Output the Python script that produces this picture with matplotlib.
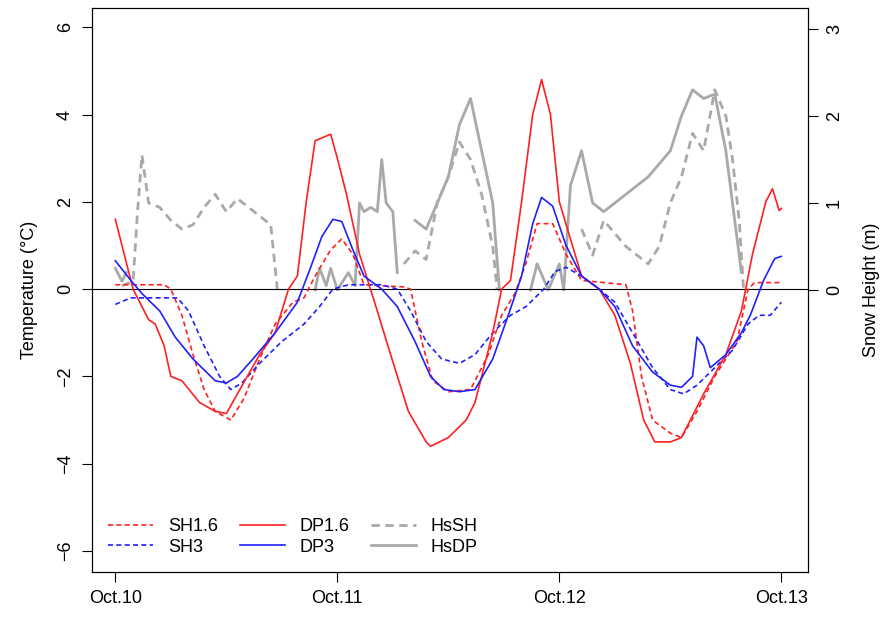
import numpy as np
import matplotlib
matplotlib.use("Agg")
import matplotlib.pyplot as plt

plt.rcParams['font.family'] = ['Liberation Sans', 'DejaVu Sans']
nan = np.nan

t_dp16 = [0,0.08,0.15,0.18,0.22,0.25,0.3,0.38,0.45,0.5,0.55,0.65,0.72,0.78,0.82,0.86,0.9,0.97,1.0,1.04,1.1,1.18,1.24,1.32,1.4,1.42,1.5,1.58,1.62,1.7,1.74,1.78,1.83,1.88,1.92,1.96,2.0,2.1,2.18,2.25,2.32,2.38,2.43,2.5,2.55,2.65,2.75,2.82,2.87,2.93,2.96,2.99,3.0]
dp16 = [1.6,0,-0.7,-0.8,-1.3,-2.0,-2.1,-2.6,-2.8,-2.85,-2.4,-1.5,-1.0,0,0.3,2,3.4,3.55,3.0,2.2,0.8,-0.5,-1.5,-2.8,-3.5,-3.6,-3.4,-3.0,-2.6,-1.0,0,0.2,2,4,4.8,4,2,0.3,0,-0.6,-1.7,-3.0,-3.5,-3.5,-3.4,-2.4,-1.5,-0.5,0.8,2.0,2.3,1.8,1.85]

t_sh16 = [0,0.22,0.25,0.3,0.35,0.4,0.45,0.52,0.58,0.65,0.72,0.8,0.85,0.9,0.97,1.02,1.07,1.12,1.3,1.33,1.38,1.43,1.5,1.6,1.68,1.74,1.8,1.85,1.9,1.97,2.03,2.1,2.3,2.33,2.37,2.42,2.5,2.55,2.62,2.7,2.8,2.85,2.88,3.0]
sh16 = [0.1,0.1,0,-0.6,-1.5,-2.3,-2.8,-3.0,-2.5,-1.6,-0.8,-0.3,-0.2,0.3,0.9,1.15,0.8,0.1,0.05,0,-1.2,-2.1,-2.35,-2.3,-1.5,-0.6,-0.1,0.6,1.5,1.5,0.8,0.2,0.1,-0.5,-2.0,-3.0,-3.3,-3.4,-2.8,-2.0,-1.2,0,0.15,0.15]

t_dp3 = [0,0.07,0.12,0.2,0.27,0.35,0.45,0.5,0.55,0.62,0.72,0.82,0.88,0.93,0.98,1.02,1.07,1.12,1.2,1.27,1.35,1.42,1.48,1.55,1.62,1.7,1.77,1.83,1.88,1.92,1.97,2.03,2.1,2.18,2.25,2.33,2.42,2.5,2.55,2.6,2.62,2.65,2.68,2.75,2.82,2.86,2.92,2.97,3.0]
dp3 = [0.65,0.2,-0.1,-0.5,-1.1,-1.6,-2.1,-2.15,-2.0,-1.6,-1.0,-0.3,0.5,1.2,1.6,1.55,0.9,0.3,0,-0.4,-1.2,-2.0,-2.3,-2.35,-2.3,-1.6,-0.6,0.3,1.5,2.1,1.9,1.0,0.3,0,-0.4,-1.3,-1.9,-2.2,-2.25,-2.0,-1.1,-1.3,-1.8,-1.5,-1.0,-0.6,0.2,0.7,0.75]

t_sh3 = [0,0.07,0.28,0.33,0.4,0.47,0.52,0.57,0.65,0.75,0.85,0.92,0.98,1.05,1.2,1.27,1.33,1.4,1.47,1.55,1.62,1.7,1.78,1.85,1.93,1.98,2.03,2.1,2.18,2.25,2.33,2.42,2.5,2.56,2.62,2.7,2.78,2.85,2.9,2.95,3.0]
sh3 = [-0.35,-0.2,-0.2,-0.5,-1.3,-2.0,-2.3,-2.15,-1.7,-1.2,-0.8,-0.4,0,0.1,0.1,0,-0.5,-1.2,-1.6,-1.7,-1.5,-1.0,-0.6,-0.4,0,0.4,0.5,0.3,0,-0.3,-1.0,-1.8,-2.3,-2.4,-2.2,-1.8,-1.4,-0.8,-0.6,-0.6,-0.3]

t_hssh = [0.03,0.08,0.1,0.12,0.15,0.2,0.25,0.3,0.35,0.4,0.45,0.5,0.55,0.6,0.65,0.7,0.73,0.74,
          1.3,1.35,1.4,1.45,1.5,1.55,1.6,1.65,1.7,1.72,1.73,
          2.1,2.15,2.2,2.3,2.4,2.45,2.5,2.55,2.6,2.65,2.7,2.75,2.78,2.81,2.83]
hssh = [0.05,0.1,0.9,1.55,1.0,0.95,0.8,0.7,0.75,0.95,1.1,0.9,1.05,0.95,0.85,0.75,0.0,nan,
        0.3,0.45,0.35,1.0,1.3,1.7,1.5,1.1,0.5,0.0,nan,
        0.7,0.4,0.8,0.5,0.3,0.5,1.0,1.3,1.8,1.6,2.3,2.0,1.5,0.8,0.0]

t_hsdp = [0,0.03,0.05,0.06,0.9,0.92,0.95,0.97,1.0,1.05,1.08,1.1,1.12,1.15,1.18,1.2,1.22,1.25,1.27,1.28,
          1.35,1.4,1.45,1.5,1.55,1.6,1.65,1.7,1.73,1.74,
          1.87,1.9,1.95,2.0,2.02,2.05,2.1,2.15,2.2,2.3,2.4,2.5,2.55,2.6,2.65,2.7,2.75,2.8,2.82,2.83]
hsdp = [0.25,0.1,0.2,nan,0.0,0.25,0.05,0.25,0.0,0.2,0.05,1.0,0.9,0.95,0.9,1.5,1.0,0.9,0.2,nan,
        0.8,0.7,1.0,1.3,1.9,2.2,1.6,1.0,0.0,nan,
        0.0,0.3,0.0,0.3,0.0,1.2,1.6,1.0,0.9,1.1,1.3,1.6,2.0,2.3,2.2,2.25,1.6,0.6,0.2,nan]

xticks = [0, 1, 2, 3]
xticklabels = ['Oct.10', 'Oct.11', 'Oct.12', 'Oct.13']

fig = plt.figure(figsize=(8.93, 6.18), dpi=100)
ax = fig.add_axes([92/893, 46/618, 716/893, 564/618])
ax2 = ax.twinx()
grey = '#a9a9a9'
ax2.plot(t_hssh, hssh, color=grey, lw=2, ls=(0, (3, 2)))
ax2.plot(t_hsdp, hsdp, color=grey, lw=2)
ax2.set_ylim(-3.24, 3.24)
ax2.set_yticks([0, 1, 2, 3])
ax2.set_ylabel('Snow Height (m)', fontsize=13, labelpad=14, rotation=90)
ax.set_zorder(ax2.get_zorder() + 1)
ax.patch.set_visible(False)

ax.axhline(0, color='black', lw=0.8)
ax.plot(t_sh16, sh16, color='#ff2020', lw=1.2, ls=(0, (3, 2)), label='SH1.6')
ax.plot(t_sh3, sh3, color='#2020ff', lw=1.2, ls=(0, (3, 2)), label='SH3')
ax.plot(t_dp16, dp16, color='#ff2020', lw=1.2, label='DP1.6')
ax.plot(t_dp3, dp3, color='#2020ff', lw=1.2, label='DP3')
ax.plot([], [], color=grey, lw=2, ls=(0, (3, 2)), label='HsSH')
ax.plot([], [], color=grey, lw=2, label='HsDP')
ax.set_xlim(-0.105, 3.12)
ax.set_ylim(-6.48, 6.44)
ax.set_yticks([-6, -4, -2, 0, 2, 4, 6])
ax.set_xticks(xticks)
ax.set_xticklabels(xticklabels)
ax.set_ylabel('Temperature (°C)', fontsize=13, labelpad=14)
for a in (ax, ax2):
    a.tick_params(labelsize=13, length=7, pad=6)
    for lab in a.get_yticklabels():
        lab.set_rotation(90)
        lab.set_va('center')
ax.legend(loc='lower left', ncol=3, frameon=False, fontsize=13, handlelength=2.5,
          bbox_to_anchor=(0.0, 0.0), columnspacing=1.2, labelspacing=0.2)
fig.savefig('out.png', dpi=100)
